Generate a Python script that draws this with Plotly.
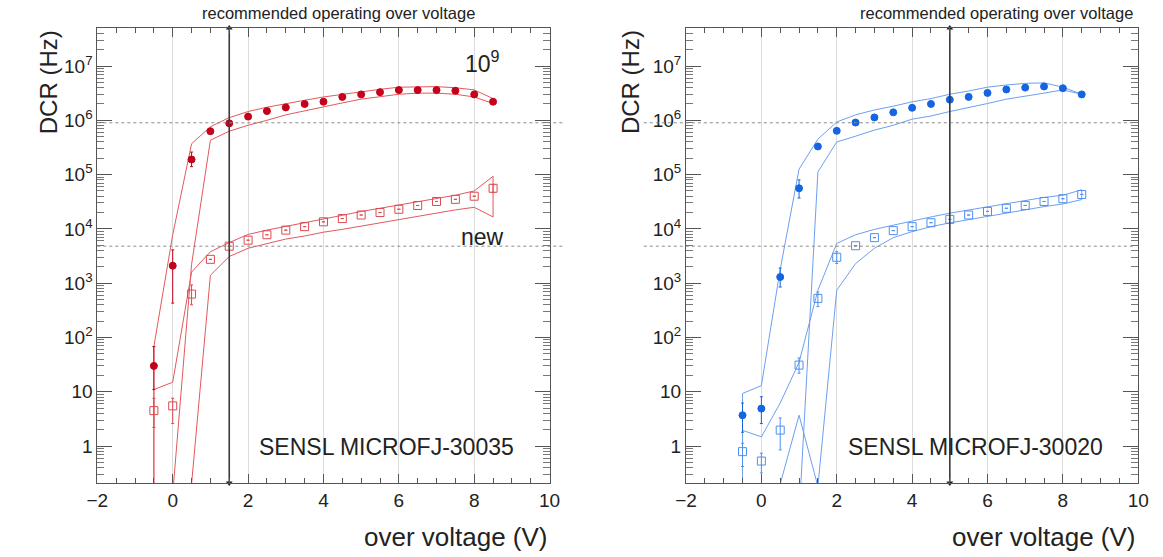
import plotly.graph_objects as go

# ---------------- data ----------------
over_voltage = [-0.5, 0, 0.5, 1, 1.5, 2, 2.5, 3, 3.5, 4, 4.5, 5, 5.5, 6, 6.5, 7, 7.5, 8, 8.5]

# SENSL MICROFJ-30035 (left, red)
l_irr = [30, 2100, 1.9e5, 6.3e5, 8.8e5, 1.17e6, 1.48e6, 1.73e6, 2.0e6, 2.2e6, 2.7e6, 3.0e6,
         3.3e6, 3.6e6, 3.6e6, 3.6e6, 3.5e6, 3.0e6, 2.2e6]
l_irr_hi = [68, 4100, 2.6e5, None, None, None, None, None, None, None, None, None,
            None, None, None, None, None, None, None]
l_irr_lo = [11, 430, 1.4e5, None, None, None, None, None, None, None, None, None,
            None, None, None, None, None, None, None]
l_irr_up = [68, 7800, 3.7e5, 7.6e5, 1.12e6, 1.45e6, 1.74e6, 2.04e6, 2.34e6, 2.69e6, 3.02e6, 3.39e6,
            3.72e6, 4.07e6, 4.17e6, 4.17e6, 3.98e6, 3.63e6, 2.51e6]
l_irr_dn = [1e-3, 0.13, 2.2e3, 4.3e5, 6.3e5, 8.1e5, 1.0e6, 1.26e6, 1.51e6, 1.78e6, 2.09e6, 2.45e6,
            2.69e6, 3.02e6, 3.16e6, 3.16e6, 3.02e6, 2.69e6, 2.04e6]

l_new = [4.5, 5.5, 630, 2750, 4800, 6200, 7800, 9500, 1.1e4, 1.35e4, 1.55e4, 1.8e4,
         2.0e4, 2.3e4, 2.7e4, 3.2e4, 3.5e4, 4.0e4, 5.6e4]
l_new_hi = [7.6, 7.6, 930, None, None, None, None, None, None, None, None, None,
            None, None, None, None, None, None, 6.6e4]
l_new_lo = [2.2, 2.6, 400, None, None, None, None, None, None, None, None, None,
            None, None, None, None, None, None, 4.7e4]
l_new_up = [11, 15, 1600, 3800, 5600, 7900, 9500, 1.12e4, 1.29e4, 1.55e4, 1.78e4, 2.09e4,
            2.4e4, 2.75e4, 3.16e4, 3.63e4, 4.17e4, 5.0e4, 9.3e4]
l_new_dn = [1e-3, 1e-3, 0.2, 1400, 3100, 4400, 5400, 6500, 7400, 8700, 9800, 1.1e4,
            1.26e4, 1.45e4, 1.66e4, 1.95e4, 2.24e4, 2.5e4, 1.66e4]

# SENSL MICROFJ-30020 (right, blue)
r_irr = [3.7, 4.9, 1300, 5.6e4, 3.3e5, 6.4e5, 9.1e5, 1.13e6, 1.4e6, 1.7e6, 2.0e6, 2.4e6,
         2.7e6, 3.2e6, 3.7e6, 4.0e6, 4.2e6, 3.9e6, 3.0e6]
r_irr_hi = [6.2, 8.1, 1900, 8.0e4, None, None, None, None, None, None, None, None,
            None, None, None, None, None, None, None]
r_irr_lo = [1.8, 2.6, 850, 3.7e4, None, None, None, None, None, None, None, None,
            None, None, None, None, None, None, None]
r_irr_up = [9.3, 13, 1800, 1.26e5, 4.5e5, 9.3e5, 1.26e6, 1.55e6, 1.82e6, 2.19e6, 2.51e6, 3.02e6,
            3.47e6, 4.07e6, 4.47e6, 4.79e6, 4.9e6, 4.07e6, 3.02e6]
r_irr_dn = [1e-3, 1e-3, 1e-3, 0.05, 1.12e5, 4.0e5, 5.1e5, 6.6e5, 8.1e5, 1.05e6, 1.2e6, 1.45e6,
            1.74e6, 2.04e6, 2.45e6, 2.82e6, 3.16e6, 3.63e6, 3.02e6]

r_new = [0.79, 0.53, 1.97, 31, 525, 3000, 4900, 6900, 9300, 1.1e4, 1.3e4, 1.5e4,
         1.8e4, 2.1e4, 2.4e4, 2.7e4, 3.2e4, 3.6e4, 4.3e4]
r_new_hi = [1.13, 0.74, 3.3, 42, 690, 3800, None, None, None, None, None, None,
            None, None, None, None, None, None, None]
r_new_lo = [0.42, 0.32, 0.85, 22, 370, 2300, None, None, None, None, None, None,
            None, None, None, None, None, None, None]
r_new_up = [1.95, 1.48, 6.2, 35, 740, 5400, 7800, 9800, 1.17e4, 1.41e4, 1.66e4, 1.95e4,
            2.24e4, 2.57e4, 2.95e4, 3.39e4, 3.8e4, 4.17e4, 5.25e4]
r_new_dn = [1e-3, 1e-3, 0.2, 3.7, 0.18, 740, 2300, 4400, 6900, 8900, 1.1e4, 1.29e4,
            1.51e4, 1.74e4, 2.0e4, 2.24e4, 2.57e4, 2.88e4, 3.47e4]

recommended_ov = [1.5, 5.0]
reference_levels = [9e5, 4.8e3]
panel_titles = ["SENSL MICROFJ-30035", "SENSL MICROFJ-30020"]

x_range = [-2, 10]
y_range_log = [-0.68, 7.70]
y_tickvals = [1, 10, 1e2, 1e3, 1e4, 1e5, 1e6, 1e7]
y_ticktext = ["1", "10", "10<sup>2</sup>", "10<sup>3</sup>", "10<sup>4</sup>",
              "10<sup>5</sup>", "10<sup>6</sup>", "10<sup>7</sup>"]
y_minor = [m * 10 ** e for e in range(-1, 8) for m in range(2, 10)]

# ---------------- styles ----------------
W, H = 1163, 557
FONT = "Liberation Sans, Arial, Helvetica, sans-serif"
TXT = "#222222"
RED_DOT = "#c4001a"
RED_OPEN = "#dc4a50"
RED_LINE = "#e4585c"
BLUE_DOT = "#1565e0"
BLUE_OPEN = "#4f8ff0"
BLUE_LINE = "#6d9ff0"


def px(xp):
    return xp / W


def py(yp):
    return 1 - yp / H


fig = go.Figure()


def err_arrays(vals, hi, lo):
    plus = [(h - v) if h is not None else 0 for v, h in zip(vals, hi)]
    minus = [(v - l) if l is not None else 0 for v, l in zip(vals, lo)]
    return plus, minus


def band(xa, ya, x, up, dn, color):
    xs = list(x) + list(reversed(x)) + [x[0]]
    ys = list(up) + list(reversed(dn)) + [up[0]]
    fig.add_trace(go.Scatter(x=xs, y=ys, mode="lines", xaxis=xa, yaxis=ya,
                             line=dict(color=color, width=1), hoverinfo="skip",
                             showlegend=False))


def points(xa, ya, x, vals, hi, lo, color, symbol, size):
    plus, minus = err_arrays(vals, hi, lo)
    marker = dict(symbol=symbol, size=size, color=color, line=dict(color=color, width=1))
    fig.add_trace(go.Scatter(x=x, y=vals, mode="markers", xaxis=xa, yaxis=ya,
                             marker=marker,
                             error_y=dict(type="data", symmetric=False, array=plus,
                                          arrayminus=minus, color=color, thickness=1, width=1.5),
                             showlegend=False))


# left panel
band("x", "y", over_voltage, l_irr_up, l_irr_dn, RED_LINE)
band("x", "y", over_voltage, l_new_up, l_new_dn, RED_LINE)
points("x", "y", over_voltage, l_new, l_new_hi, l_new_lo, RED_OPEN, "square-open", 8)
points("x", "y", over_voltage, l_irr, l_irr_hi, l_irr_lo, RED_DOT, "circle", 7)
# right panel
band("x2", "y2", over_voltage, r_irr_up, r_irr_dn, BLUE_LINE)
band("x2", "y2", over_voltage, r_new_up, r_new_dn, BLUE_LINE)
points("x2", "y2", over_voltage, r_new, r_new_hi, r_new_lo, BLUE_OPEN, "square-open", 8)
points("x2", "y2", over_voltage, r_irr, r_irr_hi, r_irr_lo, BLUE_DOT, "circle", 7)

# recommended operating voltage arrows
y_lo = 10 ** y_range_log[0]
y_hi = 10 ** y_range_log[1]
for (xa, ya), xv in zip([("x", "y"), ("x2", "y2")], recommended_ov):
    fig.add_trace(go.Scatter(x=[xv, xv], y=[y_lo, y_hi], mode="lines+markers",
                             xaxis=xa, yaxis=ya, cliponaxis=False,
                             line=dict(color="#3a3a3a", width=1.6),
                             marker=dict(symbol=["triangle-down", "triangle-up"], size=6,
                                         color="#222222"),
                             showlegend=False, hoverinfo="skip"))

# reference dashed lines
for lvl in reference_levels:
    fig.add_shape(type="line", xref="x domain", yref="y", x0=0, x1=(562 - 88) / 461,
                  y0=lvl, y1=lvl, line=dict(color="#8a8a8a", width=1, dash="dot"))
    fig.add_shape(type="line", xref="x2 domain", yref="y2", x0=(645 - 688) / 461, x1=(1145 - 688) / 461,
                  y0=lvl, y1=lvl, line=dict(color="#8a8a8a", width=1, dash="dot"))

# axes
dom_left = [px(88), px(549)]
dom_right = [px(688), px(1149)]
dom_y = [py(483), py(28)]

xcommon = dict(range=x_range, dtick=2, tick0=-2, showgrid=True, gridcolor="#dcdcdc", gridwidth=1,
               showline=True, linecolor="#555555", linewidth=1, mirror="ticks",
               ticks="inside", ticklen=9, tickcolor="#555555", zeroline=False,
               tickfont=dict(family=FONT, size=19, color=TXT),
               minor=dict(dtick=0.5, tick0=-2, ticks="inside", ticklen=5, tickcolor="#555555",
                          showgrid=False))
ycommon = dict(type="log", range=y_range_log, tickvals=y_tickvals, ticktext=y_ticktext,
               showgrid=False, showline=True, linecolor="#555555", linewidth=1, mirror="ticks",
               ticks="inside", ticklen=15, tickcolor="#555555", zeroline=False,
               tickfont=dict(family=FONT, size=19, color=TXT),
               minor=dict(tickvals=y_minor, ticks="inside", ticklen=7, tickcolor="#777777",
                          showgrid=False))

fig.update_layout(
    width=W, height=H, margin=dict(l=0, r=0, t=0, b=0),
    paper_bgcolor="white", plot_bgcolor="white", showlegend=False,
    xaxis=dict(domain=dom_left, anchor="y", **xcommon),
    yaxis=dict(domain=dom_y, anchor="x", **ycommon),
    xaxis2=dict(domain=dom_right, anchor="y2", **xcommon),
    yaxis2=dict(domain=dom_y, anchor="x2", **ycommon),
)

ann = []


def text(xp, yp, s, size, xanchor="center", yanchor="middle", angle=0):
    ann.append(dict(x=px(xp), y=py(yp), xref="paper", yref="paper", text=s, showarrow=False,
                    xanchor=xanchor, yanchor=yanchor, textangle=angle,
                    font=dict(family=FONT, size=size, color=TXT)))


text(334, 13, "recommended operating over voltage", 16.5)
text(1005, 13, "recommended operating over voltage", 16.5)
text(38, 82, "DCR (Hz)", 24, angle=-90)
text(631, 82, "DCR (Hz)", 24, angle=-90)
text(549, 537, "over voltage (V)", 26, xanchor="right")
text(1149, 537, "over voltage (V)", 26, xanchor="right")
text(383, 447, panel_titles[0], 23)
text(983, 447, panel_titles[1], 23)
text(481, 62, "10<sup>9</sup>", 23)
text(481, 237, "new", 23)
fig.update_layout(annotations=ann)

fig.write_html("out.html", config={"displayModeBar": False},
               post_script="document.body.style.margin='0';document.body.style.overflow='hidden';")
